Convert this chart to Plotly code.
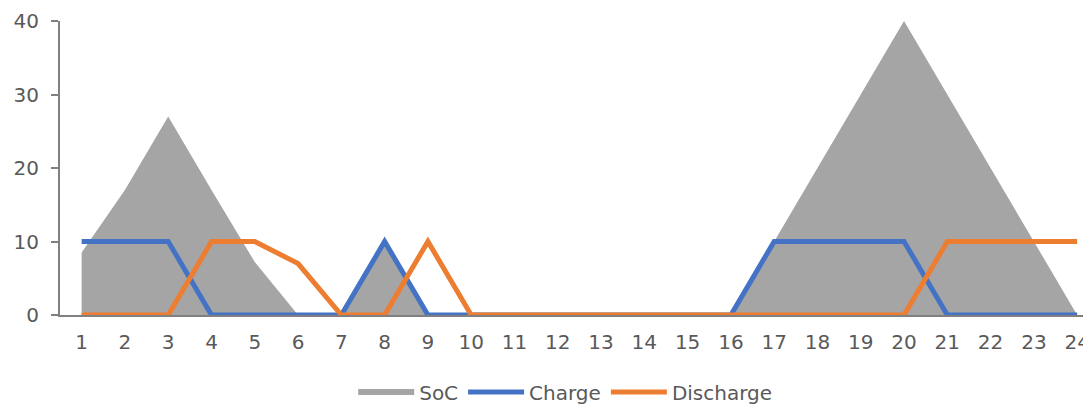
import plotly.graph_objects as go

hours = list(range(1, 25))
soc = [8.5, 17, 27, 17, 7.2, 0, 0, 10, 0, 0, 0, 0, 0, 0, 0, 0, 10, 20, 30, 40, 30, 20, 10, 0]
charge = [10, 10, 10, 0, 0, 0, 0, 10, 0, 0, 0, 0, 0, 0, 0, 0, 10, 10, 10, 10, 0, 0, 0, 0]
discharge = [0, 0, 0, 10, 10, 7, 0, 0, 10, 0, 0, 0, 0, 0, 0, 0, 0, 0, 0, 0, 10, 10, 10, 10]

fig = go.Figure()
fig.add_trace(go.Scatter(x=hours, y=soc, name="SoC", mode="none", fill="tozeroy",
                         fillcolor="#A5A5A5"))
fig.add_trace(go.Scatter(x=hours, y=charge, name="Charge", mode="lines",
                         line=dict(color="#4472C4", width=5)))
fig.add_trace(go.Scatter(x=hours, y=discharge, name="Discharge", mode="lines",
                         line=dict(color="#ED7D31", width=5)))

font = dict(family="DejaVu Sans, Verdana, sans-serif", size=20, color="#595959")
fig.update_layout(
    width=1083, height=400,
    margin=dict(l=52, r=0, t=13, b=93, autoexpand=False),
    paper_bgcolor="white", plot_bgcolor="white",
    font=font,
    showlegend=True,
    legend=dict(orientation="h", x=0.49, xanchor="center", y=-0.262, yanchor="middle",
                font=font, traceorder="normal", itemwidth=56),
)
fig.update_xaxes(range=[0.5, 24.32], tickmode="array", tickvals=hours,
                 ticktext=[str(h) for h in hours], showgrid=False, zeroline=False,
                 showline=True, linecolor="#808080", linewidth=2, ticks="",
                 tickfont=font, automargin=False, ticklabelstandoff=8)
fig.update_yaxes(range=[0, 40], dtick=10, showgrid=False, zeroline=False,
                 showline=True, linecolor="#808080", linewidth=2,
                 ticks="outside", ticklen=7, tickcolor="#808080", tickwidth=2,
                 tickfont=font, automargin=False, ticklabelstandoff=8)

fig.write_html("out.html")
